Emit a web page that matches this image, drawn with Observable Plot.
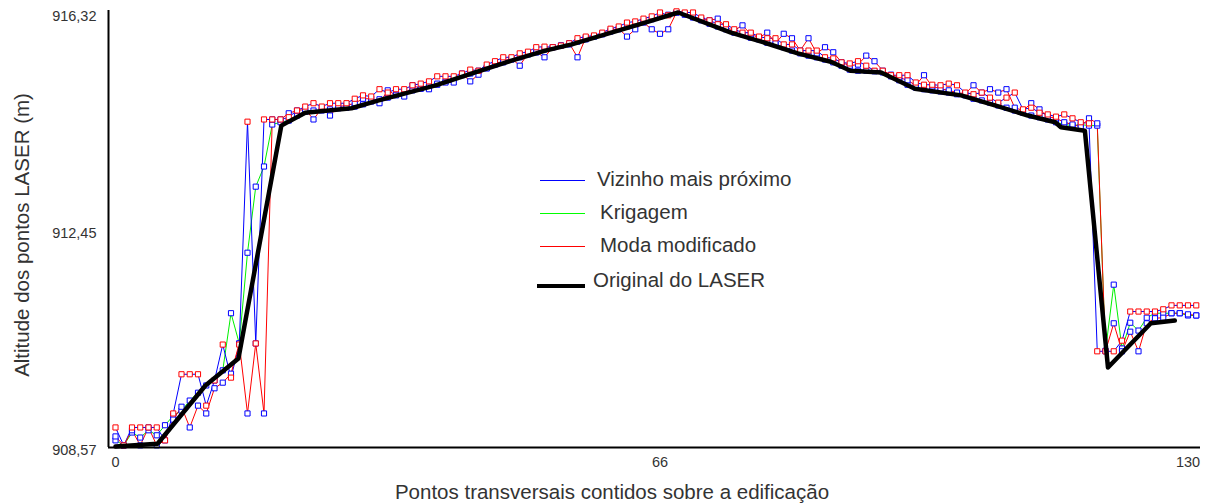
<!DOCTYPE html>
<html>
<head>
<meta charset="utf-8">
<script src="https://cdn.jsdelivr.net/npm/d3@7"></script>
<script src="https://cdn.jsdelivr.net/npm/@observablehq/plot@0.6"></script>
<style>
  html, body { margin: 0; padding: 0; background: #fff; }
  #wrap { position: relative; width: 1210px; height: 503px; font-family: "Liberation Sans", Arial, sans-serif; color: #333; }
  .ttl { position: absolute; font-size: 20.5px; white-space: nowrap; color: #333; }
  #ytitle { left: 22px; top: 235px; transform: translate(-50%, -50%) rotate(-90deg); }
  #xtitle { left: 612px; top: 492px; transform: translate(-50%, -50%); }
  #legend { position: absolute; left: 537px; top: 168px; font-size: 20.5px; color: #333; }
  .row { position: relative; height: 33px; }
  .sw { position: absolute; left: 3px; top: 12px; width: 45px; height: 1px; }
  .lab { position: absolute; left: 62px; top: -1px; white-space: nowrap; }
</style>
</head>
<body>
<div id="wrap">
  <div id="chart"></div>
  <div class="ttl" id="ytitle">Altitude dos pontos LASER (m)</div>
  <div class="ttl" id="xtitle">Pontos transversais contidos sobre a edificação</div>
  <div id="legend"></div>
</div>
<script>
// ---- data ----
const xTicks = [0, 66, 130];
const yTicks = [908.57, 912.45, 916.32];
const seriesNames = ["Vizinho mais próximo", "Krigagem", "Moda modificado", "Original do LASER"];

const vizinho = [908.91, 908.59, 908.91, 908.91, 908.91, 908.91, 908.68, 909.16, 909.86, 909.86,
 909.86, 909.30, 909.75, 910.39, 909.80, 910.39, 914.37, 910.41, 914.41, 914.41,
 914.41, 914.45, 914.57, 914.64, 914.70, 914.64, 914.70, 914.70, 914.70, 914.78,
 914.84, 914.82, 914.95, 914.89, 914.95, 914.95, 915.02, 915.05, 915.09, 915.18,
 915.18, 915.18, 915.23, 915.30, 915.28, 915.39, 915.45, 915.52, 915.52, 915.59,
 915.62, 915.70, 915.71, 915.70, 915.73, 915.77, 915.86, 915.89, 915.91, 915.96,
 916.03, 916.07, 916.14, 916.16, 916.21, 916.25, 916.32, 916.27, 916.34, 916.32,
 916.32, 916.23, 916.18, 916.11, 916.11, 916.02, 915.96, 915.96, 915.89, 915.86,
 915.86, 915.75, 915.75, 915.64, 915.64, 915.64, 915.52, 915.50, 915.43, 915.41,
 915.45, 915.37, 915.28, 915.28, 915.20, 915.20, 915.20, 915.07, 915.03, 915.03,
 915.02, 915.05, 915.02, 914.89, 914.86, 914.89, 914.80, 914.71, 914.80, 914.89,
 914.59, 914.62, 914.53, 914.50, 914.46, 914.50, 914.43, 914.36, 914.34, 910.27,
 910.27, 910.27, 910.46, 910.98, 910.98, 910.98, 910.98, 911.02, 911.09, 911.09,
 911.09, 911.09];

const krigagem = [908.68, 908.59, 908.82, 908.73, 908.86, 908.77, 908.95, 909.12, 909.21, 909.39,
 909.53, 909.66, 909.75, 909.93, 910.95, 910.41, 912.03, 913.21, 913.57, 914.32,
 914.36, 914.39, 914.48, 914.55, 914.57, 914.57, 914.59, 914.61, 914.62, 914.64,
 914.68, 914.73, 914.77, 914.80, 914.86, 914.89, 914.93, 914.96, 915.00, 915.03,
 915.09, 915.14, 915.20, 915.23, 915.28, 915.34, 915.39, 915.43, 915.48, 915.52,
 915.57, 915.61, 915.66, 915.70, 915.73, 915.75, 915.80, 915.84, 915.89, 915.93,
 915.98, 916.02, 916.07, 916.11, 916.16, 916.20, 916.25, 916.28, 916.32, 916.28,
 916.23, 916.18, 916.12, 916.07, 916.02, 915.96, 915.93, 915.87, 915.84, 915.78,
 915.75, 915.70, 915.64, 915.59, 915.55, 915.52, 915.48, 915.43, 915.37, 915.30,
 915.28, 915.28, 915.27, 915.25, 915.18, 915.11, 915.03, 914.98, 914.95, 914.93,
 914.91, 914.89, 914.86, 914.84, 914.78, 914.75, 914.71, 914.66, 914.62, 914.57,
 914.53, 914.48, 914.45, 914.41, 914.36, 914.32, 914.30, 914.32, 914.30, 914.30,
 910.28, 911.46, 910.32, 910.78, 910.64, 910.87, 910.95, 910.95, 910.95, 910.95,
 910.91, 910.91];

const moda = [908.75, 908.59, 908.86, 908.59, 908.91, 908.59, 908.68, 909.05, 909.28, 908.91,
 909.30, 909.16, 909.61, 909.71, 909.87, 910.41, 909.16, 910.41, 909.16, 914.41,
 914.41, 914.52, 914.57, 914.59, 914.41, 914.61, 914.48, 914.64, 914.66, 914.70,
 914.78, 914.78, 914.70, 914.93, 914.84, 914.82, 915.02, 914.96, 914.95, 915.05,
 915.07, 915.07, 915.23, 915.09, 915.21, 915.32, 915.41, 915.45, 915.50, 915.37,
 915.59, 915.61, 915.52, 915.70, 915.73, 915.77, 915.52, 915.87, 915.89, 915.94,
 916.00, 916.03, 915.89, 916.02, 916.14, 916.02, 915.94, 916.02, 916.32, 916.30,
 916.25, 916.20, 916.18, 916.21, 916.05, 916.00, 916.09, 915.93, 915.87, 915.96,
 915.77, 915.94, 915.86, 915.64, 915.86, 915.59, 915.70, 915.61, 915.43, 915.37,
 915.39, 915.55, 915.45, 915.28, 915.21, 915.16, 915.11, 915.02, 915.20, 915.00,
 914.96, 914.93, 914.89, 914.87, 915.02, 914.89, 914.95, 914.89, 914.95, 914.62,
 914.57, 914.70, 914.59, 914.46, 914.43, 914.36, 914.32, 914.28, 914.43, 914.34,
 910.27, 910.77, 910.27, 910.62, 910.27, 910.77, 910.86, 910.87, 910.95, 910.95,
 910.93, 910.91];

const origX = [0, 5.1, 10.9, 14.9, 20.1, 20.6, 23.0, 28.6, 31.9, 38.8, 43.6, 48.0, 52.1, 55.3, 60.1, 64.2, 68.2,
 74.6, 78.7, 82.7, 86.7, 89.1, 92.8, 96.9, 102.5, 106.6, 110.6, 113.9, 114.6, 117.5, 120.3, 125.5, 128.4];
const origY = [908.57, 908.62, 909.66, 910.14, 914.30, 914.34, 914.53, 914.61, 914.75, 915.02, 915.25, 915.46, 915.64,
 915.75, 915.96, 916.14, 916.32, 915.96, 915.78, 915.59, 915.44, 915.28, 915.25, 914.96, 914.84, 914.66, 914.48,
 914.36, 914.27, 914.21, 909.98, 910.77, 910.82];

const colors = {viz: "#0000ff", kri: "#00f000", moda: "#ff0000", orig: "#000000"};

// ---- tables ----
const toRows = arr => arr.map((v, i) => ({x: i, y: v}));
const vz = toRows(vizinho);
const kr = toRows(krigagem);
const md = toRows(moda);
const og = origX.map((x, i) => ({x, y: origY[i]}));

const fmtY = d => d.toFixed(2).replace(".", ",");

const chart = Plot.plot({
  width: 1210,
  height: 503,
  marginLeft: 108,
  marginRight: 10,
  marginTop: 10,
  marginBottom: 56,
  x: {domain: [0, 130], insetLeft: 7, insetRight: 12.5},
  y: {domain: [908.57, 916.32], insetTop: 2, insetBottom: 1},
  style: {fontFamily: "'Liberation Sans', Arial, sans-serif", fontSize: "14.5px", color: "#333", background: "#fff"},
  marks: [
    Plot.axisX(xTicks, {tickSize: 0, tickPadding: 9, tickFormat: d => String(d), label: null}),
    Plot.axisY(yTicks, {tickSize: 0, tickPadding: 12, tickFormat: fmtY, label: null, dy: 4}),
    Plot.line(kr, {x: "x", y: "y", stroke: colors.kri, strokeWidth: 1}),
    Plot.line(vz, {x: "x", y: "y", stroke: colors.viz, strokeWidth: 1}),
    Plot.line(md, {x: "x", y: "y", stroke: colors.moda, strokeWidth: 1}),
    Plot.dot(kr, {x: "x", y: "y", symbol: "square", r: 2.9, stroke: colors.viz, fill: "#fff", strokeWidth: 1}),
    Plot.dot(md, {x: "x", y: "y", symbol: "square", r: 2.9, stroke: colors.viz, fill: "#fff", strokeWidth: 1}),
    Plot.dot(vz, {x: "x", y: "y", symbol: "square", r: 2.9, stroke: colors.moda, fill: "#fff", strokeWidth: 1}),
    Plot.line(og, {x: "x", y: "y", stroke: colors.orig, strokeWidth: 4.5, strokeLinejoin: "round"}),
    Plot.ruleY([yTicks[0]], {stroke: "#000", strokeWidth: 2, dy: 1}),
    Plot.ruleX([xTicks[0]], {stroke: "#000", strokeWidth: 2, dx: -7})
  ]
});
document.getElementById("chart").appendChild(chart);

// ---- legend ----
const legendItems = [
  {name: seriesNames[0], color: colors.viz, w: 1, lab: 60},
  {name: seriesNames[1], color: "#00ff00", w: 1, lab: 63},
  {name: seriesNames[2], color: colors.moda, w: 1, lab: 63},
  {name: seriesNames[3], color: colors.orig, w: 4, lab: 56}
];
const lg = document.getElementById("legend");
legendItems.forEach((it, k) => {
  const row = document.createElement("div");
  row.className = "row";
  if (k === 3) row.style.marginTop = "6px";
  const sw = document.createElement("div");
  sw.className = "sw";
  sw.style.background = it.color;
  sw.style.height = it.w + "px";
  if (it.w > 1) { sw.style.left = "0px"; sw.style.width = "48px"; sw.style.top = "11px"; }
  const lab = document.createElement("div");
  lab.className = "lab";
  lab.style.left = it.lab + "px";
  lab.textContent = it.name;
  if (k === 3) lab.style.top = "-5px";
  row.appendChild(sw);
  row.appendChild(lab);
  lg.appendChild(row);
});
</script>
</body>
</html>
